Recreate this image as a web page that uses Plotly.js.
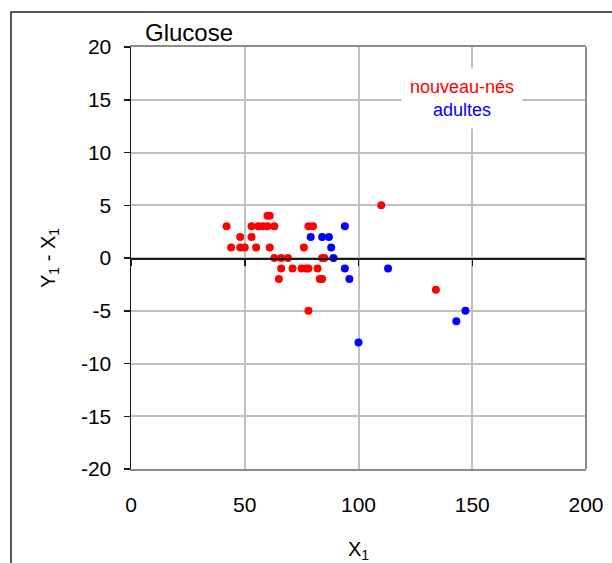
<!DOCTYPE html>
<html>
<head>
<meta charset="utf-8">
<script src="https://cdn.plot.ly/plotly-3.0.1.min.js"></script>
<style>html,body{margin:0;padding:0;background:#fff;}#chart{width:612px;height:563px;}</style>
</head>
<body>
<div id="chart"></div>
<script>
// Data (Glucose: Y1 - X1 versus X1)
var nouveauNesX = [42, 48, 44, 48, 50, 53, 56, 58, 60, 63, 60, 61, 53, 55, 61, 63, 66, 69, 66, 65, 71, 75, 77, 78, 76, 78, 80, 78, 82, 84, 85, 83, 84, 110, 134];
var nouveauNesY = [3, 2, 1, 1, 1, 3, 3, 3, 3, 3, 4, 4, 2, 1, 1, 0, 0, 0, -1, -2, -1, -1, -1, -1, 1, 3, 3, -5, -1, 0, 0, -2, -2, 5, -3];
var adultesX = [94, 79, 84, 87, 88, 89, 94, 96, 113, 100, 143, 147];
var adultesY = [3, 2, 2, 2, 1, 0, -1, -2, -1, -8, -6, -5];

var seriesNames = ["nouveau-nés", "adultes"];
var chartTitle = "Glucose";
var xTitle = "X<sub>1</sub>";
var yTitle = "Y<sub>1</sub> - X<sub>1</sub>";

var xTickVals = [0, 50, 100, 150, 200];
var xTickText = ["0", "50", "100", "150", "200"];
var yTickVals = [-20, -15, -10, -5, 0, 5, 10, 15, 20];
var yTickText = ["-20", "-15", "-10", "-5", "0", "5", "10", "15", "20"];

var FONT = "Liberation Sans, Arial, sans-serif";
var RED = "#ff0000", BLUE = "#0000ff";

var traces = [
  {x: nouveauNesX, y: nouveauNesY, name: seriesNames[0], type: "scatter", mode: "markers",
   marker: {color: RED, size: 8}, showlegend: false},
  {x: adultesX, y: adultesY, name: seriesNames[1], type: "scatter", mode: "markers",
   marker: {color: BLUE, size: 8}, showlegend: false},
  {x: [null], y: [null], xaxis: "x2", type: "scatter", mode: "markers", showlegend: false, hoverinfo: "skip"}
];

var layout = {
  width: 612, height: 563,
  margin: {l: 131, r: 26, t: 47, b: 94},
  paper_bgcolor: "#ffffff", plot_bgcolor: "#ffffff",
  font: {family: FONT, size: 20, color: "#000"},
  showlegend: false,
  title: {text: chartTitle, font: {family: FONT, size: 24, color: "#000"},
          x: (145 - 131) / 455, xanchor: "left", xref: "paper", y: 1 - 33/563, yanchor: "middle"},
  xaxis: {range: [0, 200], tickmode: "array", tickvals: xTickVals, ticktext: xTickText,
          showgrid: true, gridcolor: "#c0c0c0", gridwidth: 2,
          showline: true, linecolor: "#8c8c8c", linewidth: 2, mirror: true,
          ticks: "", ticklabelstandoff: 16, zeroline: false,
          tickfont: {family: FONT, size: 21, color: "#000"},
          title: {text: xTitle, font: {family: FONT, size: 20, color: "#000"}, standoff: 30}},
  xaxis2: {range: [0, 200], overlaying: "x", anchor: "free", position: 0.5,
           tickmode: "array", tickvals: xTickVals, ticktext: xTickText, showticklabels: false,
           showgrid: false, zeroline: false, showline: true, linecolor: "#1a1a1a", linewidth: 1.5,
           ticks: "outside", ticklen: 6, tickwidth: 1.5, tickcolor: "#1a1a1a", side: "bottom"},
  yaxis: {range: [-20, 20], tickmode: "array", tickvals: yTickVals, ticktext: yTickText,
          showgrid: true, gridcolor: "#c0c0c0", gridwidth: 2,
          showline: true, linecolor: "#1a1a1a", linewidth: 1.5, mirror: false,
          ticks: "outside", ticklen: 6, tickwidth: 1.5, tickcolor: "#1a1a1a",
          ticklabelstandoff: 8, zeroline: false,
          tickfont: {family: FONT, size: 21, color: "#000"},
          title: {text: yTitle, font: {family: FONT, size: 20, color: "#000"}, standoff: 20}},
  shapes: [
    {type: "line", xref: "paper", yref: "paper", x0: 1, x1: 1, y0: 0, y1: 1,
     line: {color: "#8c8c8c", width: 2}},
    {type: "rect", xref: "paper", yref: "paper", x0: (11 - 131) / 455, x1: 2,
     y0: -1, y1: (469 - 12) / 422, line: {color: "#222", width: 1.5}, fillcolor: "rgba(0,0,0,0)"}
  ],
  annotations: [
    {xref: "x", yref: "y", x: 145.5, y: 15.1, xanchor: "center", yanchor: "middle", showarrow: false,
     text: '<span style="color:' + RED + '">' + seriesNames[0] + '</span><br><span style="color:' + BLUE + '">' + seriesNames[1] + '</span>',
     font: {family: FONT, size: 18}, bgcolor: "#ffffff", borderpad: 8, align: "center"}
  ]
};

Plotly.newPlot("chart", traces, layout, {staticPlot: true, displayModeBar: false});
</script>
</body>
</html>
